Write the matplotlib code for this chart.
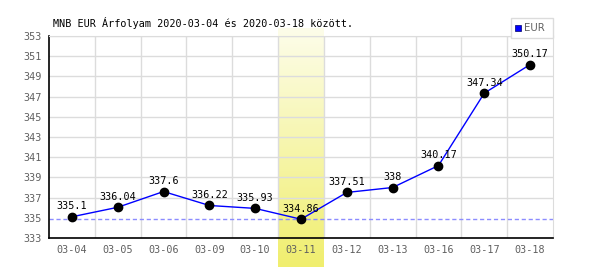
import numpy as np
import matplotlib.pyplot as plt
from matplotlib.patches import Rectangle
from matplotlib.colors import LinearSegmentedColormap

dates = ['03-04', '03-05', '03-06', '03-09', '03-10', '03-11',
         '03-12', '03-13', '03-16', '03-17', '03-18']
rates = [335.1, 336.04, 337.6, 336.22, 335.93, 334.86,
         337.51, 338, 340.17, 347.34, 350.17]
rateLabels = ['335.1', '336.04', '337.6', '336.22', '335.93', '334.86',
              '337.51', '338', '340.17', '347.34', '350.17']
highlightDate = '03-11'
yTicks = np.arange(333, 354, 2)

fontName = 'DejaVu Sans Mono'
fontSize = 7.3
gridColor = '#dcdcdc'
tickColor = '#606060'

fig = plt.figure(figsize=(6, 2.7), dpi=100)
ax = fig.add_axes([49/600, 32/270, 504/600, 202/270])
x = np.arange(len(dates))

# highlighted day: vertical gradient band reaching past the axes
hi = dates.index(highlightDate)
pxPerUnit = 202 / 20
yTop = 353 + 8 / pxPerUnit
yBot = 333 - 29 / pxPerUnit
cmap = LinearSegmentedColormap.from_list('band', ['#fdfdea', '#f0ee6e'])
grad = np.linspace(0, 1, 256).reshape(-1, 1)
ax.imshow(grad, cmap=cmap, aspect='auto', extent=[hi - 0.5, hi + 0.5, yBot, yTop],
          origin='upper', zorder=0.5, clip_on=False)
ax.set_xlim(-0.5, len(dates) - 0.5)
ax.set_ylim(333, 353)

# grid
for yv in yTicks:
    if yv != 335:
        ax.axhline(yv, color=gridColor, linewidth=1, zorder=1)
for b in np.arange(0.5, len(dates) - 0.5, 1):
    ax.axvline(b, color=gridColor, linewidth=1, zorder=1)

ax.axhline(min(rates), color='#8c8cff', linewidth=1, linestyle=(0, (3, 2)), zorder=2)

ax.plot(x, rates, color='#0000ff', linewidth=1, zorder=3)
ax.plot(x, rates, 'o', color='black', markersize=6, zorder=4)
for xi, yi, lab in zip(x, rates, rateLabels):
    ax.annotate(lab, (xi, yi), xytext=(0, 4), textcoords='offset points',
                ha='center', va='bottom', fontsize=fontSize, family=fontName,
                color='black', zorder=5)

for side in ['top', 'right']:
    ax.spines[side].set_color(gridColor)
for side in ['left', 'bottom']:
    ax.spines[side].set_color('black')
    ax.spines[side].set_linewidth(1.2)
ax.set_xticks(x)
ax.set_xticklabels(dates)
ax.set_yticks(yTicks)
ax.set_yticklabels([str(v) for v in yTicks])
ax.tick_params(length=0, labelsize=fontSize, colors=tickColor, pad=5)
for lab in ax.get_xticklabels() + ax.get_yticklabels():
    lab.set_family(fontName)

fig.text(53/600, 1 - 23/270, 'MNB EUR Árfolyam 2020-03-04 és 2020-03-18 között.',
         fontsize=fontSize, family=fontName, color='black', va='center', ha='left')

# legend box
fig.patches.append(Rectangle((511/600, 1 - 38/270), 42/600, 20/270, transform=fig.transFigure,
                             facecolor='white', edgecolor=gridColor, linewidth=1, zorder=6))
fig.patches.append(Rectangle((515/600, 1 - 31/270), 6/600, 6/270, transform=fig.transFigure,
                             facecolor='#0000ff', edgecolor='#000066', linewidth=0.5, zorder=7))
fig.text(524/600, 1 - 28/270, 'EUR', fontsize=fontSize, family='DejaVu Sans',
         color=tickColor, va='center', ha='left', zorder=8)

fig.savefig('out.png', dpi=100)
